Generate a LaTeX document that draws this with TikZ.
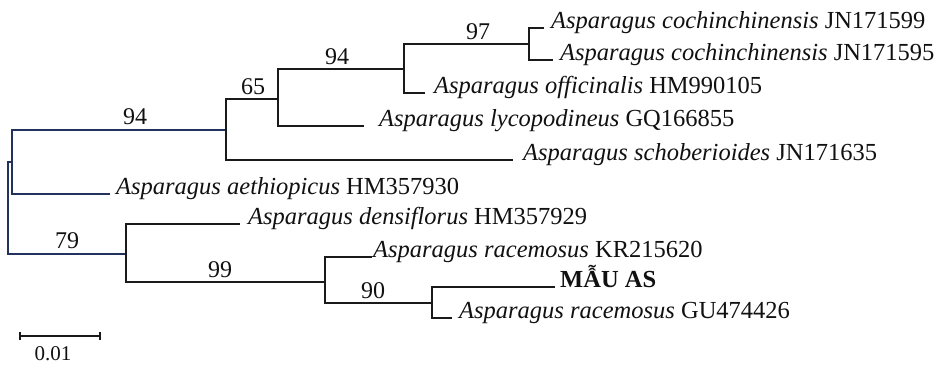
\documentclass[tikz,border=0pt]{standalone}
\usepackage{fontspec}
\setmainfont{Liberation Serif}
\definecolor{treeline}{HTML}{1A1A1A}
\definecolor{rootline}{HTML}{22325E}
\definecolor{ink}{HTML}{111111}
\begin{document}
\begin{tikzpicture}[x=1pt,y=-1pt,
  branch/.style={draw=treeline, line width=1.9pt},
  rootbranch/.style={draw=rootline, line width=1.9pt},
  taxon/.style={anchor=base west, inner sep=0pt, text=ink, font=\fontsize{24.5}{28}\selectfont},
  boot/.style={anchor=base, inner sep=0pt, text=ink, font=\fontsize{24}{28}\selectfont},
  scalelbl/.style={anchor=base, inner sep=0pt, text=ink, font=\fontsize{21}{24}\selectfont}]
\useasboundingbox (0,0) rectangle (936,365);
\fill[white] (0,0) rectangle (936,365);

% internal nodes
\coordinate (R) at (8,208);
\coordinate (H) at (12,162);
\coordinate (A) at (226,130);
\coordinate (B) at (278,99);
\coordinate (C) at (404,69);
\coordinate (D) at (529,44);
\coordinate (E) at (126,254);
\coordinate (G) at (325,282);
\coordinate (F) at (432,303);

% leaf ends
\coordinate (l1) at (544,28);
\coordinate (l2) at (553,60);
\coordinate (l3) at (425,93);
\coordinate (l4) at (364,126);
\coordinate (l5) at (513,160);
\coordinate (l6) at (110,194);
\coordinate (l7) at (240,224);
\coordinate (l8) at (372,257);
\coordinate (l9) at (555,287);
\coordinate (l10) at (452,318);

% root connectors
\draw[rootbranch] (R) |- (H);
\draw[rootbranch] (R) |- (E);
\draw[rootbranch] (H) |- (A);
\draw[rootbranch] (H) |- (l6);

% tree connectors
\draw[branch] (A) |- (B);
\draw[branch] (A) |- (l5);
\draw[branch] (B) |- (C);
\draw[branch] (B) |- (l4);
\draw[branch] (C) |- (D);
\draw[branch] (C) |- (l3);
\draw[branch] (D) |- (l1);
\draw[branch] (D) |- (l2);
\draw[branch] (E) |- (l7);
\draw[branch] (E) |- (G);
\draw[branch] (G) |- (l8);
\draw[branch] (G) |- (F);
\draw[branch] (F) |- (l9);
\draw[branch] (F) |- (l10);

% taxa
\node[taxon] (t1) at (551,28) {\textit{Asparagus cochinchinensis} JN171599};
\node[taxon] (t2) at (560,60) {\textit{Asparagus cochinchinensis} JN171595};
\node[taxon] (t3) at (434,93) {\textit{Asparagus officinalis} HM990105};
\node[taxon] (t4) at (379,126) {\textit{Asparagus lycopodineus} GQ166855};
\node[taxon] (t5) at (523,160) {\textit{Asparagus schoberioides} JN171635};
\node[taxon] (t6) at (116,194) {\textit{Asparagus aethiopicus} HM357930};
\node[taxon] (t7) at (248,224) {\textit{Asparagus densiflorus} HM357929};
\node[taxon] (t8) at (373,257) {\textit{Asparagus racemosus} KR215620};
\node[taxon] (t9) at (560,287) {\textbf{MẪU AS}};
\node[taxon] (t10) at (459,318) {\textit{Asparagus racemosus} GU474426};

% bootstrap values
\node[boot] (b1) at (135,124) {94};
\node[boot] (b2) at (253,94) {65};
\node[boot] (b3) at (337,64) {94};
\node[boot] (b4) at (478,39) {97};
\node[boot] (b5) at (67,248) {79};
\node[boot] (b6) at (220,277) {99};
\node[boot] (b7) at (373,298) {90};

% scale bar
\coordinate (s1) at (20,336);
\coordinate (s2) at (100,336);
\draw[branch, line width=1.5pt] (s1) -- (s2);
\draw[branch, line width=1.5pt] ([yshift=-4pt]s1) -- ([yshift=4pt]s1);
\draw[branch, line width=1.5pt] ([yshift=-4pt]s2) -- ([yshift=4pt]s2);
\node[scalelbl] (sl) at (53,360) {0.01};
\end{tikzpicture}
\end{document}
